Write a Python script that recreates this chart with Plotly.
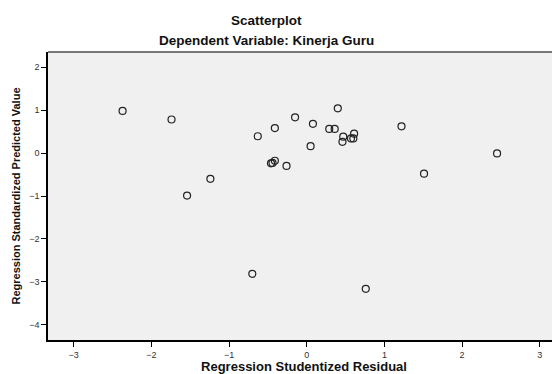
import plotly.graph_objects as go

residuals = [-2.37, -1.74, -1.54, -1.24, -0.70, -0.63, -0.46, -0.44, -0.41, -0.41,
             -0.26, -0.15, 0.05, 0.08, 0.29, 0.36, 0.40, 0.46, 0.47, 0.57,
             0.60, 0.61, 0.76, 1.22, 1.51, 2.45]
predicted = [0.98, 0.78, -0.99, -0.60, -2.81, 0.39, -0.24, -0.23, -0.18, 0.58,
             -0.30, 0.83, 0.16, 0.68, 0.56, 0.56, 1.04, 0.26, 0.38, 0.34,
             0.34, 0.45, -3.16, 0.62, -0.48, -0.01]
x_ticks = [-3, -2, -1, 0, 1, 2, 3]
y_ticks = [2, 1, 0, -1, -2, -3, -4]

fig = go.Figure()
fig.add_trace(go.Scatter(
    x=residuals, y=predicted, mode="markers",
    marker=dict(symbol="circle-open", size=7, color="#222222", line=dict(width=1.2, color="#222222")),
    showlegend=False, hoverinfo="x+y"))

# The page body has an 8px margin, so the figure is 8px smaller on each axis.
fig.update_layout(
    width=552, height=366,
    margin=dict(l=40, r=0, t=44, b=34),
    paper_bgcolor="white", plot_bgcolor="#f0f0f0",
    font=dict(family="Liberation Sans, Arial, sans-serif", color="#222222"),
    xaxis=dict(range=[-3.33, 3.26], tickvals=x_ticks, ticks="outside", ticklen=5,
               tickcolor="black", tickfont=dict(size=9, color="#333333"),
               showgrid=False, zeroline=False, showline=True, linecolor="black", linewidth=1.5,
               title=dict(text="<b>Regression Studentized Residual</b>", font=dict(size=13, color="#111111"), standoff=5)),
    yaxis=dict(range=[-4.35, 2.35], tickvals=y_ticks, ticks="outside", ticklen=5,
               tickcolor="black", tickfont=dict(size=9, color="#333333"),
               showgrid=False, zeroline=False, showline=True, linecolor="black", linewidth=1.5,
               title=dict(text="<b>Regression Standardized Predicted Value</b>", font=dict(size=11, color="#111111"), standoff=6)),
    annotations=[
        dict(text="<b>Scatterplot</b>", x=0.426, y=1, xref="paper", yref="paper",
             yanchor="middle", yshift=32, showarrow=False, font=dict(size=13.5, color="#111111")),
        dict(text="<b>Dependent Variable: Kinerja Guru</b>", x=0.426, y=1, xref="paper", yref="paper",
             yanchor="middle", yshift=12, showarrow=False, font=dict(size=13.5, color="#111111")),
    ],
    shapes=[dict(type="line", xref="paper", yref="paper", x0=0, x1=1, y0=1, y1=1,
                 line=dict(color="#777777", width=2))],
)

fig.write_html("out.html")
